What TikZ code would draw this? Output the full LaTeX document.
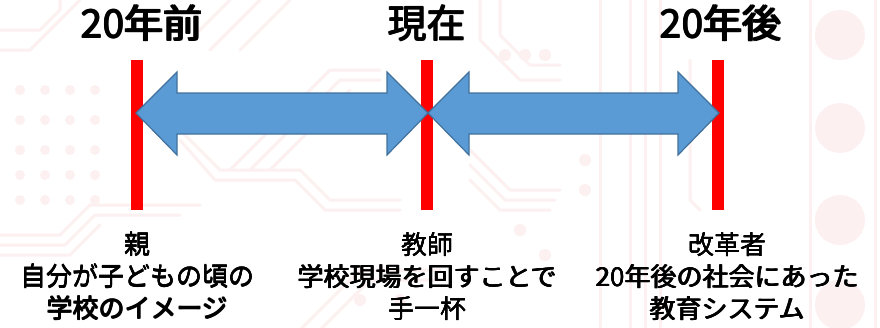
\documentclass[tikz,border=0pt]{standalone}
\usepackage{fontspec}
\newfontfamily\bcjk{Noto Sans CJK JP}
\newcommand\fb[2]{\leavevmode\rlap{\kern#1#2}\rlap{\raisebox{0.7\dimexpr#1\relax}{#2}}\rlap{\kern#1\raisebox{0.7\dimexpr#1\relax}{#2}}#2}
\definecolor{arrowfill}{HTML}{5B9BD5}
\definecolor{arrowdraw}{HTML}{41719C}
\definecolor{bgline}{HTML}{FDF0F0}
\begin{document}
\begin{tikzpicture}[x=1pt,y=-1pt,
  title/.style={font=\bcjk\fontsize{39}{44}\selectfont, anchor=center, inner sep=0pt},
  label/.style={font=\bcjk\fontsize{26}{32}\selectfont, align=center, anchor=north, inner sep=0pt},
  bar/.style={red, line width=12pt},
  dblarrow/.style={fill=arrowfill, draw=arrowdraw, line width=1.2pt, line join=miter},
  trace/.style={bgline, line width=3pt, line cap=round, line join=round},
  pad/.style={fill=bgline}]
\useasboundingbox (0,0) rectangle (880,327);
\fill[white] (0,0) rectangle (880,327);
% faint circuit background
\begin{scope}
\foreach \y in {90,120,150,175,200}{\foreach \x in {20,45,70,95}{\fill[pad] (\x,\y) circle (5);}}
\draw[trace] (0,30) -- (40,30) -- (60,10) -- (60,0);
\draw[trace] (0,50) -- (30,50) -- (80,0);
\draw[trace] (0,235) -- (60,235) -- (90,205) -- (200,205);
\draw[trace] (0,245) -- (65,245) -- (95,215) -- (180,215);
\draw[trace] (0,255) -- (70,255) -- (100,225);
\draw[trace] (180,130) -- (220,170) -- (300,170) -- (330,200) -- (400,200);
\draw[trace] (180,140) -- (215,180) -- (295,180) -- (325,210) -- (400,210);
\draw[trace] (190,40) -- (230,0);
\draw[trace] (210,50) -- (260,0);
\draw[trace] (240,50) -- (290,0);
\draw[trace] (230,170) -- (330,70) -- (380,70);
\draw[trace] (250,170) -- (340,80) -- (380,80);
\draw[trace] (270,170) -- (350,90);
\draw[trace] (300,330) -- (360,270) -- (440,270);
\draw[trace] (320,330) -- (370,280) -- (440,280);
\draw[trace] (480,0) -- (480,40) -- (520,80) -- (560,80);
\draw[trace] (500,0) -- (500,35) -- (530,65) -- (560,65);
\draw[trace] (470,150) -- (510,190) -- (560,190);
\draw[trace] (470,165) -- (505,200) -- (555,200);
\draw[trace] (470,180) -- (500,210) -- (550,210);
\foreach \x in {630,645,660}{\draw[trace] (\x,0) -- (\x,327);}
\draw[trace] (600,0) -- (600,327);
\draw[trace] (690,60) -- (690,200) -- (700,210);
\foreach \y in {35,128,220,305}{\fill[pad] (840,\y) circle (25);}
\draw[trace] (875,0) -- (875,327);
\draw[trace] (810,0) -- (810,327);
\foreach \p in {(505,55),(525,55),(545,55),(585,160),(585,190),(360,300),(400,300),(520,230),(545,255)}{\fill[pad] \p circle (6);}
\end{scope}
% titles
\node[title] (t1) at (141,23) {\fb{1.4pt}{20年前}};
\node[title] (t2) at (426,23) {\fb{1.4pt}{現在}};
\node[title] (t3) at (720,23) {\fb{1.4pt}{20年後}};
% red bars
\coordinate (b1t) at (137,60); \coordinate (b1b) at (137,210);
\coordinate (b2t) at (427,60); \coordinate (b2b) at (427,210);
\coordinate (b3t) at (718,60); \coordinate (b3b) at (718,210);
\draw[bar] (b1t) -- (b1b);
\draw[bar] (b2t) -- (b2b);
\draw[bar] (b3t) -- (b3b);
% arrows
\coordinate (a1) at (136,113);
\coordinate (a2) at (428,113);
\coordinate (a3) at (719,113);
\draw[dblarrow] (a1) -- ++(41,-41) -- ++(0,21) -- (387,93) -- (387,72) -- (a2)
  -- (387,155) -- (387,134) -- (177,134) -- (177,155) -- cycle;
\draw[dblarrow] (a2) -- ++(41,-41) -- ++(0,21) -- (678,93) -- (678,72) -- (a3)
  -- (678,155) -- (678,134) -- (469,134) -- (469,155) -- cycle;
% labels
\node[label] (l1) at (137,232) {\fb{0.9pt}{親}\\\fb{0.9pt}{自分が子どもの頃の}\\\fb{0.9pt}{学校のイメージ}};
\node[label] (l2) at (427,232) {\fb{0.9pt}{教師}\\\fb{0.9pt}{学校現場を回すことで}\\\fb{0.9pt}{手一杯}};
\node[label] (l3) at (727,232) {\fb{0.9pt}{改革者}\\\fb{0.9pt}{20年後の社会にあった}\\\fb{0.9pt}{教育システム}};
\end{tikzpicture}
\end{document}
